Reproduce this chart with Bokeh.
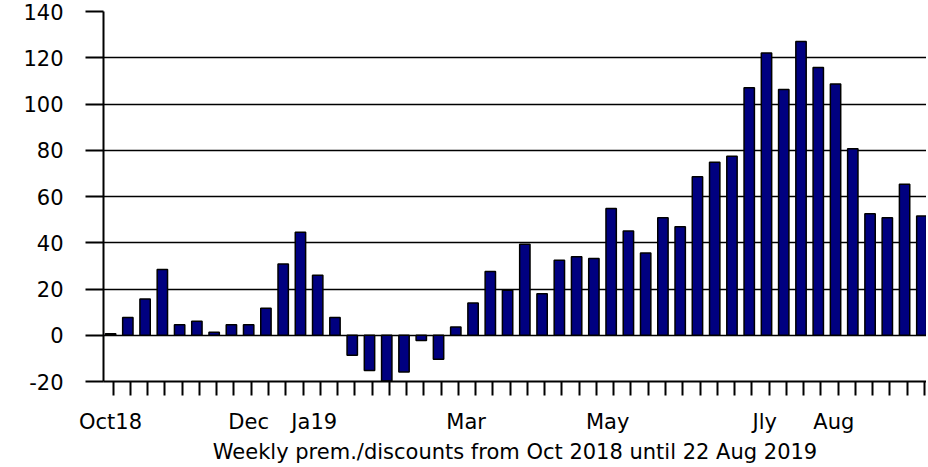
from bokeh.plotting import figure
from bokeh.models import FixedTicker, Range1d, ColumnDataSource
from bokeh.embed import file_html
from bokeh.resources import INLINE

# Weekly premium/discount values (Oct 2018 .. 22 Aug 2019)
values = [0.6, 7.7, 15.7, 28.4, 4.5, 6.1, 1.3, 4.5, 4.5, 11.7,
          30.8, 44.5, 26.0, 7.7, -8.7, -15.2, -19.8, -15.9, -2.3, -10.4,
          3.6, 14.0, 27.6, 19.5, 39.4, 18.0, 32.4, 33.9, 33.2, 54.8,
          45.1, 35.6, 50.8, 46.9, 68.5, 74.8, 77.4, 107.0, 122.1, 106.3,
          127.0, 115.8, 108.6, 80.6, 52.5, 50.8, 65.3, 51.6]
weeks = list(range(len(values)))

month_labels = ["Oct18", "Dec", "Ja19", "Mar", "May", "Jly", "Aug"]
month_pos = [0, 8, 11.8, 20.6, 28.8, 37.9, 41.9]

y_ticks = [-20, 0, 20, 40, 60, 80, 100, 120, 140]
y_tick_labels = ["-20", "0", "20", "40", "60", "80", "100", "120", "140"]

x_label = "Weekly prem./discounts from Oct 2018 until 22 Aug 2019"

src = ColumnDataSource(data=dict(x=weeks, top=values))

p = figure(width=926, height=466, output_backend="svg", toolbar_location=None,
           x_range=Range1d(-0.41, 47.27), y_range=Range1d(-20, 140),
           min_border_left=103, min_border_right=0, min_border_top=11,
           min_border_bottom=85)
p.outline_line_color = None
p.background_fill_color = "white"
p.border_fill_color = "white"

p.vbar(x="x", top="top", bottom=0, width=0.6, source=src,
       fill_color="#000080", line_color="black", line_width=1.5)

# x axis
p.xaxis.ticker = FixedTicker(ticks=month_pos, minor_ticks=[w + 0.15 for w in weeks])
p.xaxis.major_label_overrides = {pos: lab for pos, lab in zip(month_pos, month_labels)}
p.xaxis.major_tick_line_color = None
p.xaxis.minor_tick_line_color = "black"
p.xaxis.minor_tick_line_width = 2
p.xaxis.minor_tick_in = 0
p.xaxis.minor_tick_out = 14
p.xaxis.major_tick_out = 14
p.xaxis.major_tick_in = 0
p.xaxis.axis_line_color = "black"
p.xaxis.axis_line_width = 2
p.xaxis.major_label_standoff = 14
p.xaxis.major_label_text_font = "DejaVu Sans"
p.xaxis.major_label_text_font_size = "21px"
p.xaxis.major_label_text_color = "black"
p.xaxis.axis_label = x_label
p.xaxis.axis_label_text_font = "DejaVu Sans"
p.xaxis.axis_label_text_font_size = "21px"
p.xaxis.axis_label_text_font_style = "normal"
p.xaxis.axis_label_text_color = "black"
p.xaxis.axis_label_standoff = 3

# y axis
p.yaxis.ticker = FixedTicker(ticks=y_ticks)
p.yaxis.major_label_overrides = {t: lab for t, lab in zip(y_ticks, y_tick_labels)}
p.yaxis.minor_tick_line_color = None
p.yaxis.major_tick_line_color = "black"
p.yaxis.major_tick_line_width = 2
p.yaxis.major_tick_in = 0
p.yaxis.major_tick_out = 18
p.yaxis.axis_line_color = "black"
p.yaxis.axis_line_width = 2
p.yaxis.major_label_standoff = 22
p.yaxis.major_label_text_font = "DejaVu Sans"
p.yaxis.major_label_text_font_size = "21px"
p.yaxis.major_label_text_color = "black"

# grid
p.xgrid.grid_line_color = None
p.ygrid.ticker = FixedTicker(ticks=y_ticks)
p.ygrid.grid_line_color = "black"
p.ygrid.grid_line_width = 1.5
p.ygrid.grid_line_alpha = 1.0

open("out.html", "w").write(file_html(p, INLINE))
